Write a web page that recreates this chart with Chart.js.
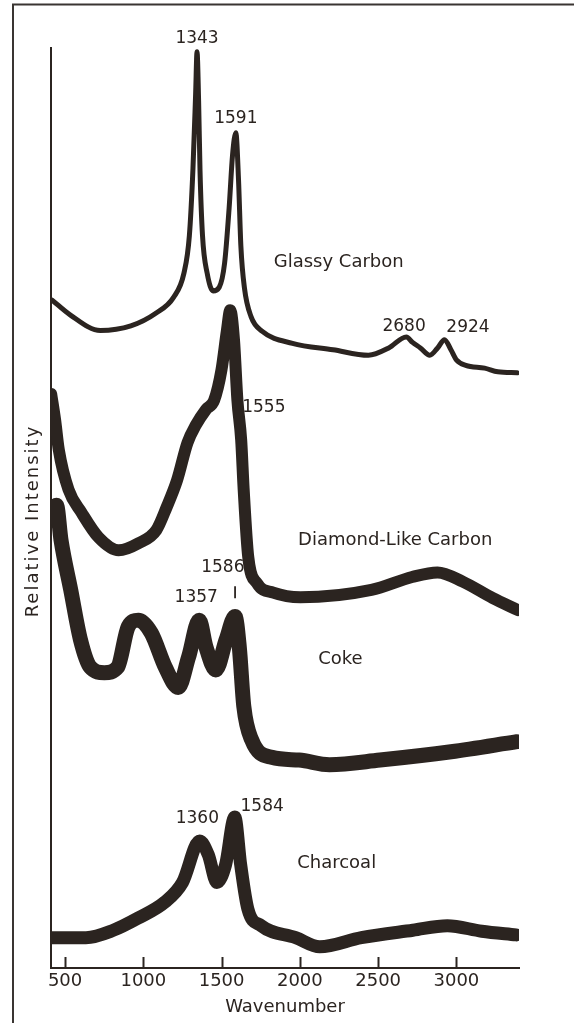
<!DOCTYPE html>
<html>
<head>
<meta charset="utf-8">
<script src="https://cdn.jsdelivr.net/npm/chart.js@4/dist/chart.umd.min.js"></script>
<style>
  html, body { margin: 0; padding: 0; background: #ffffff; }
  #wrap { width: 574px; height: 1023px; position: relative; }
</style>
</head>
<body>
<div id="wrap"><canvas id="c" width="574" height="1023"></canvas></div>
<script>
// Raman spectra of four carbons, stacked with vertical offsets (relative intensity, arbitrary units)
const tickValues = [500, 1000, 1500, 2000, 2500, 3000];

const glassyWn = [417, 532, 725, 920, 1082, 1193, 1259, 1294, 1317, 1334, 1343, 1353, 1362, 1378, 1408, 1446, 1485, 1519, 1548, 1570, 1591, 1608, 1623, 1646, 1688, 1760, 1953, 2212, 2438, 2568, 2680, 2720, 2770, 2830, 2880, 2924, 2965, 3000, 3060, 3180, 3265, 3388];
const glassyI  = [72.6, 71.0, 69.3, 69.8, 71.2, 72.9, 75.5, 79.6, 86.9, 95.0, 99.6, 94.3, 86.7, 79.6, 75.5, 73.6, 74.0, 76.6, 82.6, 88.4, 90.8, 85.7, 78.5, 73.9, 70.8, 69.2, 67.9, 67.2, 66.6, 67.4, 68.6, 68.0, 67.4, 66.6, 67.4, 68.3, 67.2, 66.1, 65.5, 65.2, 64.8, 64.7];

const dlcWn = [411, 436, 460, 522, 605, 714, 842, 972, 1083, 1149, 1215, 1282, 1335, 1400, 1452, 1499, 1534, 1555, 1579, 1601, 1625, 1641, 1670, 1727, 1830, 2004, 2457, 2717, 2879, 3040, 3233, 3394];
const dlcI  = [62.4, 59.6, 56.3, 52.0, 49.5, 46.8, 45.4, 46.2, 47.6, 50.1, 53.0, 57.1, 59.0, 60.7, 61.7, 65.0, 69.3, 71.5, 68.3, 61.7, 57.4, 52.0, 44.7, 41.8, 40.8, 40.3, 41.1, 42.5, 43.0, 42.0, 40.2, 38.9];

const cokeWn = [411, 445, 474, 536, 598, 661, 751, 836, 903, 968, 1051, 1140, 1223, 1289, 1357, 1400, 1463, 1529, 1586, 1613, 1642, 1692, 1820, 1995, 2189, 2512, 2966, 3387];
const cokeI  = [49.0, 50.3, 46.5, 41.1, 35.7, 32.7, 32.1, 32.7, 37.1, 37.8, 36.4, 32.7, 30.5, 33.8, 37.8, 34.9, 32.4, 35.7, 38.2, 34.9, 28.4, 24.8, 22.9, 22.6, 22.1, 22.6, 23.5, 24.6];

const charcoalWn = [413, 633, 808, 964, 1140, 1250, 1360, 1415, 1470, 1525, 1584, 1622, 1668, 1752, 1973, 2127, 2393, 2722, 2942, 3162, 3382];
const charcoalI  = [3.3, 3.3, 4.1, 5.4, 7.2, 9.3, 13.8, 12.3, 9.3, 11.2, 16.4, 11.2, 6.4, 4.6, 3.3, 2.3, 3.3, 4.1, 4.6, 4.0, 3.6];

// Peak wavenumber labels and sample names
const peakTexts = ['1343', '1591', '2680', '2924', '1555', '1586', '1357', '1360', '1584'];
const sampleNames = ['Glassy Carbon', 'Diamond-Like Carbon', 'Coke', 'Charcoal'];

// Where each text sits, in axis units (wavenumber, intensity)
const peakTextAt = [[1343, 101], [1591, 92.3], [2666, 69.7], [3074, 69.6], [1770, 60.9], [1508, 43.5], [1338, 40.3], [1345, 16.2], [1759, 17.5]];
const sampleTextAt = [[2248, 76.7], [2609, 46.5], [2259, 33.5], [2235, 11.4]];

const INK = '#2b2420';
const FONT = "'DejaVu Sans', 'Liberation Sans', sans-serif";
Chart.defaults.font.family = FONT;

function pts(xs, ys) { return xs.map((x, i) => ({ x: x, y: ys[i] })); }

const series = [
  { label: 'Glassy Carbon', data: pts(glassyWn, glassyI), width: 5 },
  { label: 'Diamond-Like Carbon', data: pts(dlcWn, dlcI), width: 12 },
  { label: 'Coke', data: pts(cokeWn, cokeI), width: 15 },
  { label: 'Charcoal', data: pts(charcoalWn, charcoalI), width: 13 }
];

const decor = {
  id: 'decor',
  beforeDraw(chart) {
    const ctx = chart.ctx;
    ctx.save();
    ctx.strokeStyle = '#3a3532';
    ctx.lineWidth = 2;
    ctx.beginPath();
    ctx.moveTo(13, 1023);
    ctx.lineTo(13, 4.5);
    ctx.lineTo(574, 4.5);
    ctx.stroke();
    ctx.restore();
  },
  afterDraw(chart) {
    const ctx = chart.ctx;
    const xs = chart.scales.x, ys = chart.scales.y;
    const area = chart.chartArea;
    ctx.save();
    ctx.strokeStyle = INK;
    ctx.lineWidth = 2;
    // tick marks pointing into the plot
    tickValues.forEach(v => {
      const px = Math.round(xs.getPixelForValue(v)) + 0.5;
      ctx.beginPath();
      ctx.moveTo(px, area.bottom);
      ctx.lineTo(px, area.bottom - 11);
      ctx.stroke();
    });
    ctx.fillStyle = INK;
    ctx.textAlign = 'center';
    ctx.textBaseline = 'middle';
    ctx.font = '17px ' + FONT;
    peakTexts.forEach((t, i) => {
      ctx.fillText(t, xs.getPixelForValue(peakTextAt[i][0]), ys.getPixelForValue(peakTextAt[i][1]));
    });
    // small marker above the coke 1586 peak
    const mx = xs.getPixelForValue(1586);
    ctx.lineWidth = 1.8;
    ctx.beginPath();
    ctx.moveTo(mx, ys.getPixelForValue(41.5));
    ctx.lineTo(mx, ys.getPixelForValue(40.2));
    ctx.stroke();
    ctx.font = '18px ' + FONT;
    sampleNames.forEach((t, i) => {
      ctx.fillText(t, xs.getPixelForValue(sampleTextAt[i][0]), ys.getPixelForValue(sampleTextAt[i][1]));
    });
    // vertical axis title, letter-spaced like the stencil lettering
    ctx.save();
    ctx.translate(33, (area.top + area.bottom) / 2 + 13);
    ctx.rotate(-Math.PI / 2);
    ctx.font = '18px ' + FONT;
    ctx.letterSpacing = '2px';
    ctx.fillText('Relative Intensity', 0, 0);
    ctx.restore();
    ctx.restore();
  }
};

new Chart(document.getElementById('c'), {
  type: 'line',
  data: {
    datasets: series.map(s => ({
      label: s.label,
      data: s.data,
      borderColor: INK,
      backgroundColor: INK,
      borderWidth: s.width,
      pointRadius: 0,
      cubicInterpolationMode: 'monotone',
      borderJoinStyle: 'round',
      borderCapStyle: 'round',
      fill: false
    }))
  },
  options: {
    responsive: false,
    animation: false,
    layout: { padding: { top: 48, right: 55, left: 0, bottom: 0 } },
    plugins: { legend: { display: false }, tooltip: { enabled: false } },
    scales: {
      x: {
        type: 'linear',
        min: 410,
        max: 3400,
        afterBuildTicks: s => { s.ticks = tickValues.map(v => ({ value: v })); },
        afterFit: s => { s.height = 55; },
        ticks: { color: INK, font: { size: 18, family: FONT }, padding: 3, maxRotation: 0, autoSkip: false, callback: v => String(v) },
        grid: { display: false, drawTicks: false },
        border: { display: true, color: INK, width: 2 },
        title: { display: true, text: 'Wavenumber', color: INK, font: { size: 18, family: FONT }, padding: { top: 0, bottom: 5 } }
      },
      y: {
        min: 0,
        max: 100,
        afterFit: s => { s.width = 51; },
        ticks: { display: false },
        grid: { display: false, drawTicks: false },
        border: { display: true, color: INK, width: 2 },
        title: { display: false }
      }
    }
  },
  plugins: [decor]
});
</script>
</body>
</html>
